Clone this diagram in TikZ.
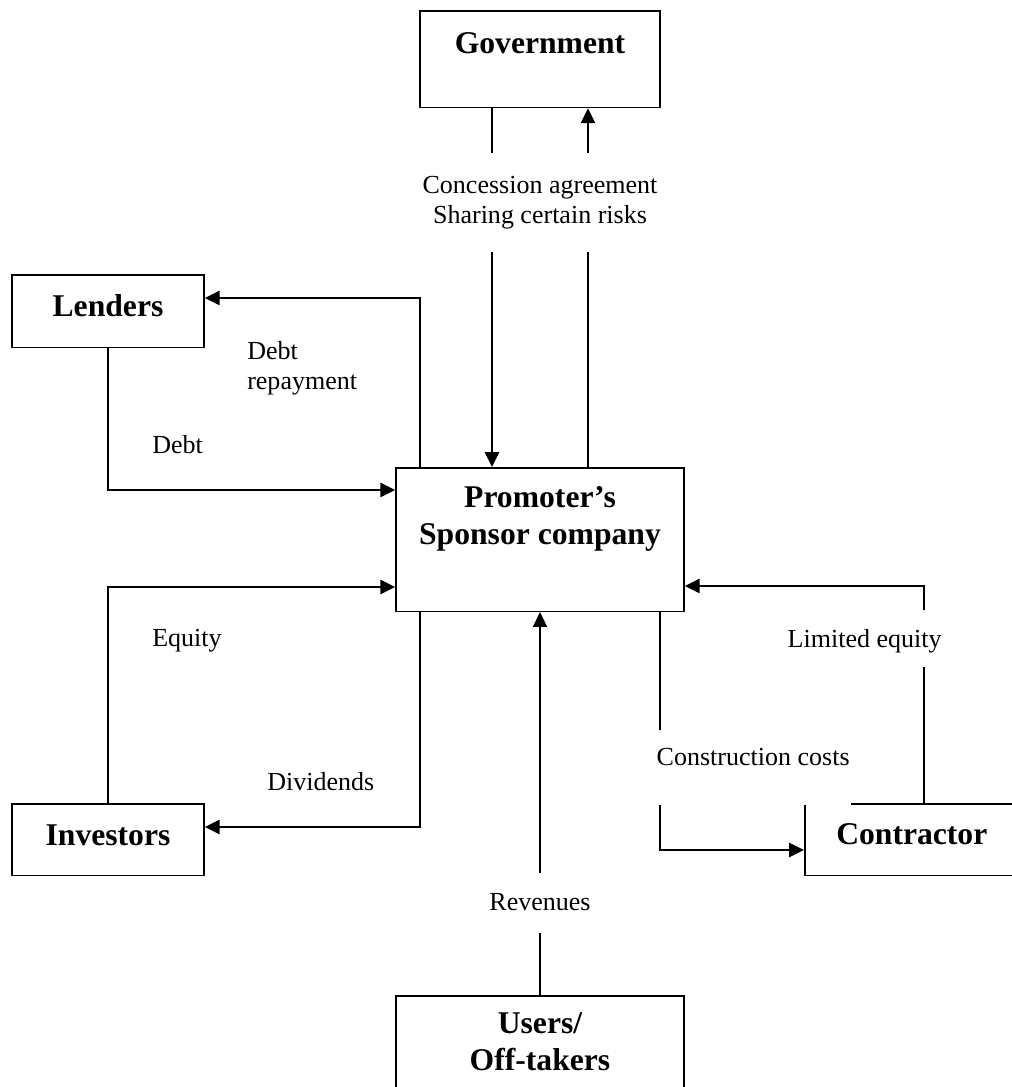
\documentclass[tikz,border=0pt]{standalone}
\usepackage{fontspec}
\setmainfont{Liberation Serif}
\usetikzlibrary{arrows.meta}

\tikzset{
  party/.style={draw, line width=1.1pt, inner sep=0pt, font=\bfseries\fontsize{22.5}{26.2}\selectfont},
  flow/.style={line width=1.4pt, -{Triangle[length=10.5pt, width=10pt]}},
  cut/.style={fill=white, inner xsep=1pt, inner ysep=0pt, font=\fontsize{18.5}{21.3}\selectfont},
  note/.style={inner sep=0pt, font=\fontsize{18.5}{21.3}\selectfont}
}

\begin{document}
\begin{tikzpicture}[x=0.025cm, y=-0.025cm]
\useasboundingbox (0,0) rectangle (1012,1087);

% Parties
\node[party, anchor=north, minimum width=6cm, text height=30.5pt, text depth=38.3pt] (gov) at (540,10) {Government};
\node[party, anchor=north, minimum width=4.8cm, text height=29.8pt, text depth=22pt] (len) at (108,274) {Lenders};
\node[party, anchor=north, minimum width=7.2cm, text height=28.4pt, text depth=73.7pt] (pr) at (540,467)
  {\begin{tabular}[t]{@{}c@{}}Promoter's\\Sponsor company\end{tabular}};
\node[party, anchor=north, minimum width=4.8cm, text height=29.8pt, text depth=21.3pt] (inv) at (108,803) {Investors};
\node[party, anchor=north west, minimum width=5.35cm, text height=29.1pt, text depth=22pt] (con) at (804,803) {Contractor};
\node[party, anchor=north, minimum width=7.2cm, text height=26.9pt, text depth=75pt] (usr) at (540,995)
  {\begin{tabular}[t]{@{}c@{}}Users/\\Off-takers\end{tabular}};

% Flows
\draw[flow] (gov.south -| 492,0) -- (pr.north -| 492,0);
\draw[flow] (pr.north -| 588,0) -- (gov.south -| 588,0);
\draw[flow] (pr.north -| 420,0) |- (len.east |- 0,298);
\draw[flow] (len.south) |- (pr.west |- 0,490);
\draw[flow] (inv.north) |- (pr.west |- 0,587);
\draw[flow] (pr.south -| 420,0) |- (inv.east |- 0,827);
\draw[flow] (usr.north) -- (pr.south);
\draw[flow] (pr.south -| 660,0) |- (con.west |- 0,850);
\draw[flow] (con.north -| 924,0) |- (pr.east |- 0,586);

% Labels
\node[cut, align=center, minimum height=2.475cm] (agree) at (540,202.5) {Concession agreement\\Sharing certain risks};
\node[cut, anchor=base, text height=26.2pt, text depth=16.3pt] (rev) at (540,910) {Revenues};
\node[cut, anchor=base west, text height=24.8pt, text depth=28.4pt] (cost) at (655,765) {Construction costs};
\node[cut, anchor=base west, text height=26.2pt, text depth=14.2pt] (leq) at (786,647) {Limited equity};
\node[note, anchor=north west, align=left] (repay) at (247,341) {Debt\\repayment};
\node[note, anchor=base west] (debt) at (152,453) {Debt};
\node[note, anchor=base west] (eq) at (152,646) {Equity};
\node[note, anchor=base west] (div) at (267,790) {Dividends};
\end{tikzpicture}
\end{document}
